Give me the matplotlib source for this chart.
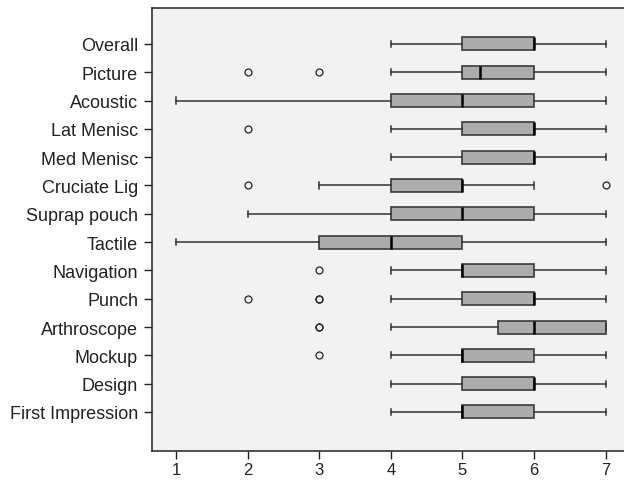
import matplotlib

matplotlib.use("Agg")
import matplotlib.pyplot as plt

# rating items, top to bottom as shown in the chart
labels = ["Overall", "Picture", "Acoustic", "Lat Menisc", "Med Menisc",
          "Cruciate Lig", "Suprap pouch", "Tactile", "Navigation", "Punch",
          "Arthroscope", "Mockup", "Design", "First Impression"]
whislo = [4, 4, 1, 4, 4, 3, 2, 1, 4, 4, 4, 4, 4, 4]
q1 = [5, 5, 4, 5, 5, 4, 4, 3, 5, 5, 5.5, 5, 5, 5]
med = [6, 5.25, 5, 6, 6, 5, 5, 4, 5, 6, 6, 5, 6, 5]
q3 = [6, 6, 6, 6, 6, 5, 6, 5, 6, 6, 7, 6, 6, 6]
whishi = [7, 7, 7, 7, 7, 6, 7, 7, 7, 7, 7, 7, 7, 7]
fliers = [[], [2, 3], [], [2], [], [2, 7], [], [], [3], [2, 3, 3], [3, 3], [3], [], []]

stats = []
for i, lab in enumerate(labels):
    stats.append(dict(label=lab, whislo=whislo[i], q1=q1[i], med=med[i],
                      q3=q3[i], whishi=whishi[i], fliers=fliers[i]))
# bxp draws from the bottom up
stats = stats[::-1]

plt.rcParams["font.family"] = ["Liberation Sans", "DejaVu Sans"]

fig = plt.figure(figsize=(6.24, 4.81), dpi=100)
ax = fig.add_axes([152 / 624, 1 - 452 / 481, 1 - 152 / 624, (452 - 9) / 481])
ax.set_facecolor("#f2f2f2")

ax.bxp(stats, positions=range(len(stats)), vert=False, widths=0.46,
       patch_artist=True,
       boxprops=dict(facecolor="#acacac", edgecolor="#3a3a3a", linewidth=1.2),
       medianprops=dict(color="black", linewidth=1.8),
       whiskerprops=dict(color="#333333", linewidth=1.1),
       capprops=dict(color="#333333", linewidth=1.1),
       capwidths=0.22,
       flierprops=dict(marker="o", markersize=5, markerfacecolor="none",
                       markeredgecolor="#222222", markeredgewidth=0.9))

ax.set_xlim(0.665, 7.255)
ax.set_ylim(-1.38, 14.27)
ax.set_xticks(range(1, 8))
ax.tick_params(axis="both", length=6, width=1, color="#222222",
               labelcolor="#222222")
ax.tick_params(axis="y", pad=4, labelsize=13)
ax.tick_params(axis="x", pad=2, labelsize=12)
for side in ("left", "bottom", "top"):
    ax.spines[side].set_linewidth(1.1)
    ax.spines[side].set_color("#222222")
ax.spines["right"].set_visible(False)

fig.savefig("out.png", dpi=100)
